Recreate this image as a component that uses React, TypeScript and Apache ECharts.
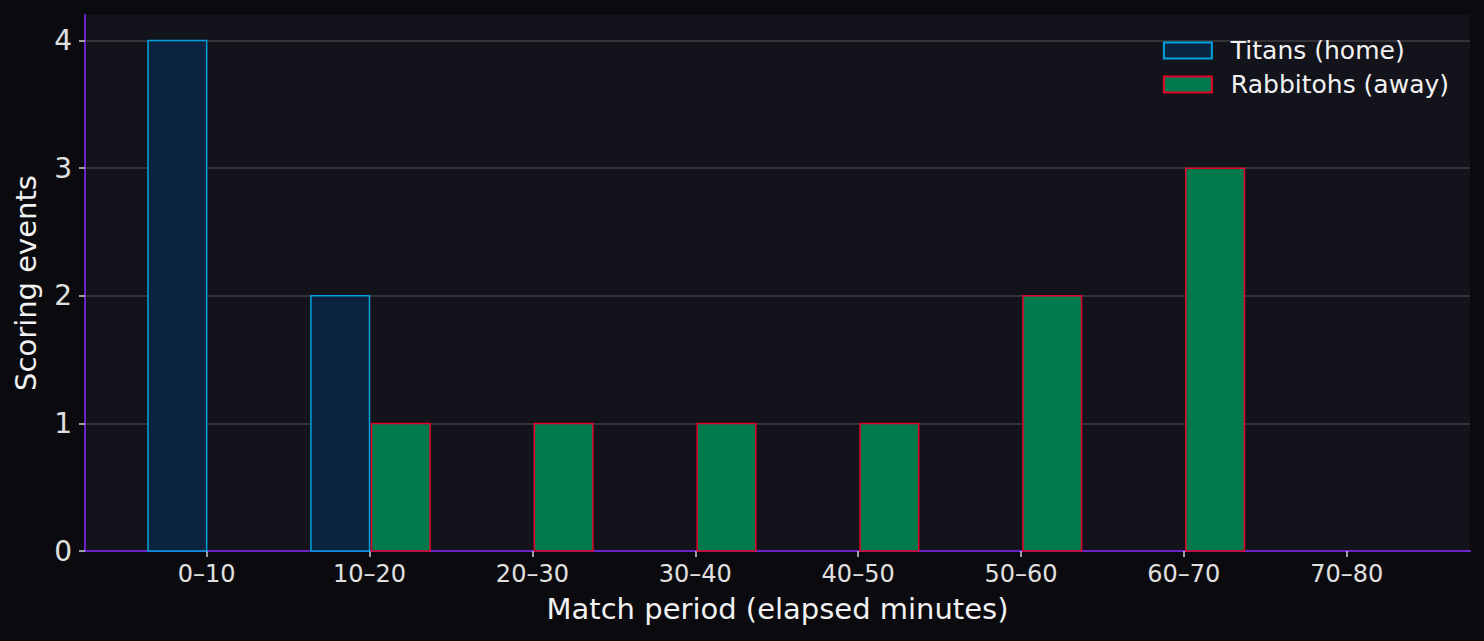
import { useEffect, useRef } from 'react';
import * as echarts from 'echarts';

const periods = ['0–10', '10–20', '20–30', '30–40', '40–50', '50–60', '60–70', '70–80'];
const titansHome = [4, 2, 0, 0, 0, 0, 0, 0];
const rabbitohsAway = [0, 1, 1, 1, 1, 2, 3, 0];
const yTicks = [0, 1, 2, 3, 4];

const FONT = 'DejaVu Sans';
const BAR_W = 0.36;

export default function App() {
  const chartRef = useRef<HTMLDivElement>(null);

  useEffect(() => {
    if (!chartRef.current) return;
    document.body.style.margin = '0';
    const instance = echarts.init(chartRef.current, undefined, { renderer: 'svg' });

    // bar drawn between [i + from, i + to] on the value x axis
    const barRenderer = (from: number, to: number, fill: string, stroke: string) =>
      (_params: unknown, api: any) => {
        const i = api.value(0);
        const v = api.value(1);
        if (!v) return null;
        const p0 = api.coord([i + from, 0]);
        const p1 = api.coord([i + to, v]);
        return {
          type: 'rect',
          shape: { x: p0[0], y: p1[1], width: p1[0] - p0[0], height: p0[1] - p1[1] },
          style: { fill, stroke, lineWidth: 1.5 },
        };
      };

    const idx = periods.map((_, i) => i);

    instance.setOption({
      animation: false,
      backgroundColor: '#0b0b0f',
      textStyle: { fontFamily: FONT },
      grid: {
        left: 85,
        right: 14,
        top: 15,
        bottom: 90,
        show: true,
        backgroundColor: '#12131b',
        borderWidth: 0,
      },
      legend: {
        right: 30,
        top: 33,
        orient: 'vertical',
        itemWidth: 48,
        itemHeight: 16,
        itemGap: 9,
        icon: 'rect',
        textStyle: { color: '#f2f2f2', fontSize: 25, fontFamily: FONT, padding: [0, 0, 0, 14] },
        data: ['Titans (home)', 'Rabbitohs (away)'],
      },
      xAxis: {
        type: 'value',
        min: -0.747,
        max: 7.757,
        splitLine: { show: false },
        axisLine: { show: true, lineStyle: { color: '#6a24c8', width: 2 } },
        axisTick: {
          show: true,
          customValues: idx,
          length: 6,
          lineStyle: { color: '#d0d0d0', width: 1.5 },
        },
        axisLabel: {
          customValues: idx,
          formatter: (v: number) => periods[Math.round(v)] ?? '',
          color: '#e0e0e0',
          fontSize: 24,
          fontFamily: FONT,
          margin: 11,
        },
        name: 'Match period (elapsed minutes)',
        nameLocation: 'middle',
        nameGap: 43,
        nameTextStyle: { color: '#f2f2f2', fontSize: 29, fontFamily: FONT },
      },
      yAxis: {
        type: 'value',
        min: 0,
        max: 4.2,
        interval: 1,
        axisLine: { show: true, onZero: false, lineStyle: { color: '#6a24c8', width: 2 } },
        axisTick: {
          show: true,
          customValues: yTicks,
          length: 6,
          lineStyle: { color: '#d0d0d0', width: 1.5 },
        },
        axisLabel: {
          customValues: yTicks,
          color: '#e0e0e0',
          fontSize: 28,
          fontFamily: FONT,
          margin: 13,
        },
        splitLine: { show: true, lineStyle: { color: '#3e3e42', width: 1.5 } },
        name: 'Scoring events',
        nameLocation: 'middle',
        nameGap: 45,
        nameTextStyle: { color: '#f2f2f2', fontSize: 29, fontFamily: FONT },
      },
      series: [
        {
          name: 'Titans (home)',
          type: 'custom',
          renderItem: barRenderer(-BAR_W, 0, '#0c2340', '#00a3e0'),
          itemStyle: { color: '#0c2340', borderColor: '#00a3e0', borderWidth: 1.5 },
          encode: { x: 0, y: 1 },
          data: titansHome.map((v, i) => [i, v]),
        },
        {
          name: 'Rabbitohs (away)',
          type: 'custom',
          renderItem: barRenderer(0.012, 0.012 + BAR_W, '#007a4d', '#e4002b'),
          itemStyle: { color: '#007a4d', borderColor: '#e4002b', borderWidth: 1.5 },
          encode: { x: 0, y: 1 },
          data: rabbitohsAway.map((v, i) => [i, v]),
        },
      ],
    });

    return () => {
      instance.dispose();
    };
  }, []);

  return <div ref={chartRef} style={{ width: 1484, height: 641 }} />;
}
